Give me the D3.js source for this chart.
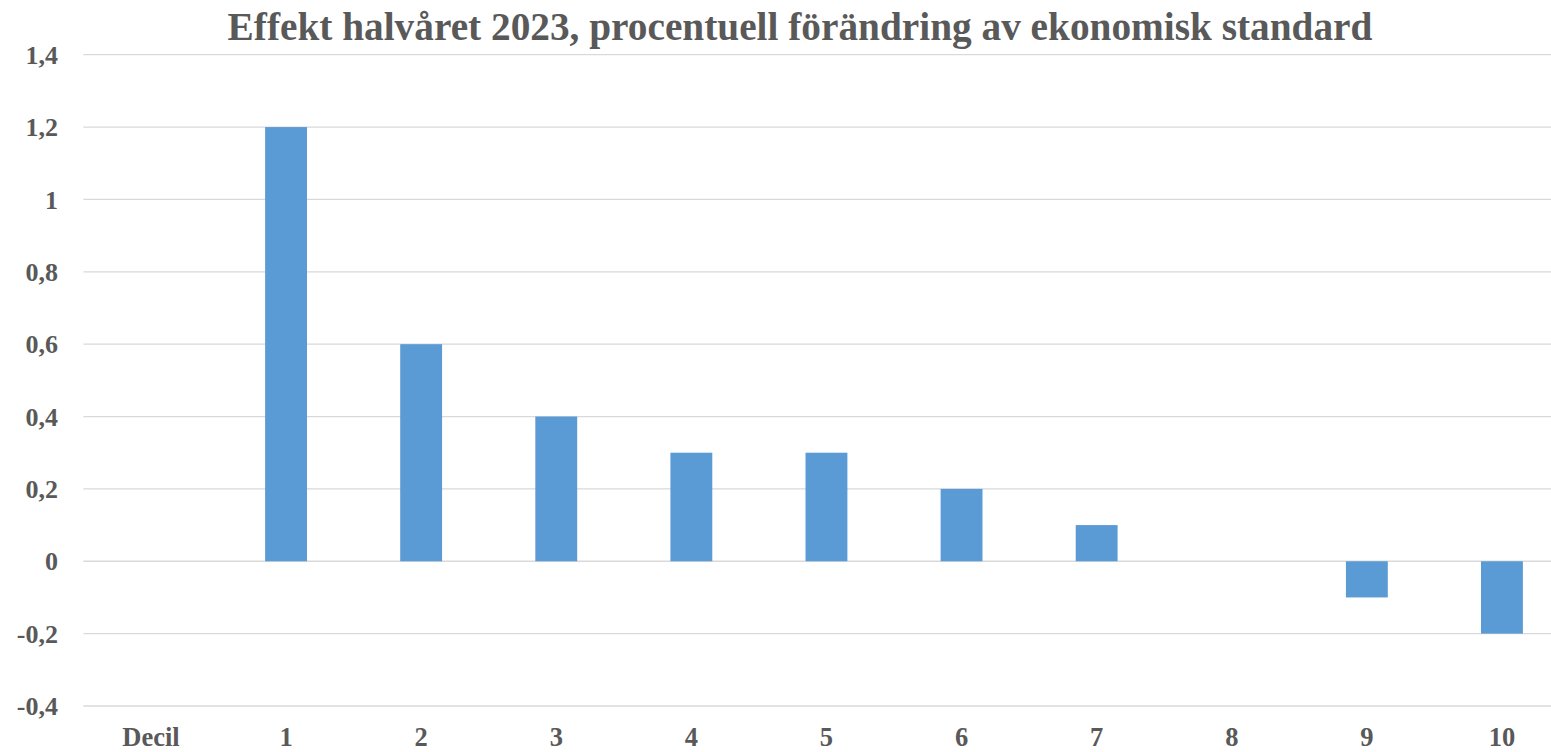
<!DOCTYPE html>
<html><head><meta charset="utf-8">
<script src="https://cdn.jsdelivr.net/npm/d3@7"></script>
<style>body{margin:0;background:#fff;overflow:hidden}svg{display:block}</style>
</head><body>
<svg id="c" width="1551" height="752"></svg>
<script>
const categories = ["Decil","1","2","3","4","5","6","7","8","9","10"];
const values = [null,1.2,0.6,0.4,0.3,0.3,0.2,0.1,0,-0.1,-0.2];
const yTicks = [-0.4,-0.2,0,0.2,0.4,0.6,0.8,1,1.2,1.4];
const title = "Effekt halvåret 2023, procentuell förändring av ekonomisk standard";

(function(){
const svg = d3.select("#c");
const font = "'Liberation Serif','Times New Roman',serif";
const txt = "#595959";
const pLeft = 83.4, pRight = 1569.5, pTop = 54.7, pBottom = 706;

const x = d3.scaleBand().domain(categories).range([pLeft,pRight]).paddingInner(0.69).paddingOuter(0.345);
const y = d3.scaleLinear().domain([-0.4,1.4]).range([pBottom,pTop]);
const fmt = d => d3.format("")(d).replace(".",",").replace("−","-");

svg.append("g").selectAll("line").data(yTicks).join("line")
  .attr("x1",pLeft).attr("x2",pRight)
  .attr("y1",d=>y(d)).attr("y2",d=>y(d))
  .attr("stroke","#d9d9d9").attr("stroke-width",1.3);

svg.append("g").selectAll("text").data(yTicks).join("text")
  .attr("x",58).attr("y",d=>y(d)).attr("dy","0.35em")
  .attr("text-anchor","end").attr("font-family",font).attr("font-weight","bold")
  .attr("font-size",26).attr("fill",txt).text(d=>fmt(d));

const data = categories.map((c,i)=>({c,v:values[i]})).filter(d=>d.v!==null && d.v!==0);
svg.append("g").selectAll("rect").data(data).join("rect")
  .attr("x",d=>x(d.c)).attr("width",x.bandwidth())
  .attr("y",d=>y(Math.max(0,d.v))).attr("height",d=>Math.abs(y(d.v)-y(0)))
  .attr("fill","#5b9bd5");

svg.append("g").selectAll("text").data(categories).join("text")
  .attr("x",d=>x(d)+x.bandwidth()/2).attr("y",746)
  .attr("text-anchor","middle").attr("font-family",font).attr("font-weight","bold")
  .attr("font-size",26.5).attr("fill",txt).text(d=>d);

svg.append("text").attr("x",800).attr("y",39.5).attr("text-anchor","middle")
  .attr("font-family",font).attr("font-weight","bold").attr("font-size",39.3)
  .attr("fill",txt).text(title);
})();
</script>
</body></html>
